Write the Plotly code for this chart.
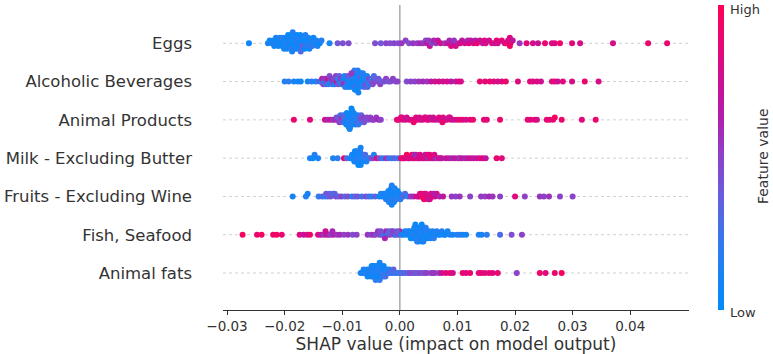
import numpy as np
import plotly.graph_objects as go

# ---------------- data ----------------
features = ["Animal fats", "Fish, Seafood", "Fruits - Excluding Wine",
            "Milk - Excluding Butter", "Animal Products", "Alcoholic Beverages", "Eggs"]

eggs_shap = [-0.0262, -0.0229, -0.0226, -0.0222, -0.0220, -0.0218, -0.0215, -0.0214, -0.0212, -0.0211,
             -0.0208, -0.0207, -0.0206, -0.0204, -0.0203, -0.0201, -0.0200, -0.0199, -0.0198, -0.0197,
             -0.0196, -0.0194, -0.0193, -0.0192, -0.0191, -0.0190, -0.0189, -0.0188, -0.0187, -0.0186,
             -0.0185, -0.0184, -0.0183, -0.0182, -0.0180, -0.0179, -0.0178, -0.0177, -0.0176, -0.0175,
             -0.0174, -0.0173, -0.0172, -0.0171, -0.0170, -0.0169, -0.0166, -0.0165, -0.0164, -0.0163,
             -0.0162, -0.0161, -0.0159, -0.0157, -0.0156, -0.0155, -0.0152, -0.0150, -0.0149, -0.0145,
             -0.0143, -0.0139, -0.0136, -0.0122, -0.0108, -0.0099, -0.0089, -0.0043, -0.0033, -0.0024,
             -0.0017, -0.0010, -0.0003, 0.0003, 0.0010, 0.0016, 0.0023, 0.0030, 0.0035, 0.0040,
             0.0045, 0.0047, 0.0050, 0.0052, 0.0055, 0.0059, 0.0063, 0.0066, 0.0071, 0.0078,
             0.0083, 0.0086, 0.0089, 0.0092, 0.0094, 0.0097, 0.0102, 0.0105, 0.0108, 0.0113,
             0.0118, 0.0120, 0.0123, 0.0128, 0.0131, 0.0134, 0.0139, 0.0144, 0.0147, 0.0149,
             0.0155, 0.0160, 0.0165, 0.0168, 0.0170, 0.0177, 0.0182, 0.0185, 0.0188, 0.0191,
             0.0191, 0.0192, 0.0196, 0.0208, 0.0220, 0.0231, 0.0240, 0.0252, 0.0264, 0.0269,
             0.0278, 0.0299, 0.0313, 0.0370, 0.0431, 0.0464]
eggs_feat = [0.05, 0.10, 0.05, 0.15, 0.10, 0.05, 0.10, 0.20, 0.05, 0.10,
             0.15, 0.05, 0.10, 0.05, 0.20, 0.10, 0.05, 0.10, 0.15, 0.05,
             0.10, 0.05, 0.15, 0.10, 0.05, 0.10, 0.20, 0.05, 0.10, 0.15,
             0.05, 0.10, 0.05, 0.15, 0.10, 0.05, 0.20, 0.10, 0.05, 0.15,
             0.10, 0.05, 0.30, 0.10, 0.05, 0.35, 0.10, 0.05, 0.15, 0.10,
             0.05, 0.20, 0.10, 0.05, 0.15, 0.10, 0.25, 0.05, 0.10, 0.15,
             0.10, 0.05, 0.15, 0.10, 0.40, 0.45, 0.45, 0.45, 0.40, 0.50,
             0.45, 0.50, 0.45, 0.55, 0.50, 0.45, 0.55, 0.50, 0.60, 0.55,
             0.50, 0.65, 0.55, 0.75, 0.50, 0.60, 0.55, 0.70, 0.80, 0.55,
             0.75, 0.60, 0.85, 0.65, 0.55, 0.80, 0.60, 0.85, 0.70, 0.75,
             0.60, 0.85, 0.70, 0.80, 0.65, 0.90, 0.75, 0.70, 0.85, 0.80,
             0.75, 0.85, 0.70, 0.90, 0.80, 0.85, 0.75, 0.90, 0.80, 0.95,
             0.85, 0.90, 0.70, 0.55, 0.85, 0.80, 0.75, 0.90, 0.80, 0.85,
             0.90, 0.85, 0.80, 0.80, 0.90, 0.90]

alco_shap = [-0.0200, -0.0193, -0.0184, -0.0177, -0.0172, -0.0160, -0.0153, -0.0146, -0.0139, -0.0137,
             -0.0135, -0.0133, -0.0131, -0.0130, -0.0128, -0.0126, -0.0125, -0.0124, -0.0122, -0.0120,
             -0.0119, -0.0117, -0.0115, -0.0114, -0.0113, -0.0111, -0.0110, -0.0108, -0.0107, -0.0105,
             -0.0104, -0.0102, -0.0101, -0.0099, -0.0098, -0.0097, -0.0096, -0.0095, -0.0093, -0.0092,
             -0.0091, -0.0090, -0.0089, -0.0087, -0.0086, -0.0085, -0.0084, -0.0083, -0.0082, -0.0081,
             -0.0080, -0.0079, -0.0078, -0.0077, -0.0076, -0.0075, -0.0074, -0.0073, -0.0072, -0.0071,
             -0.0070, -0.0069, -0.0068, -0.0066, -0.0065, -0.0064, -0.0063, -0.0062, -0.0061, -0.0059,
             -0.0058, -0.0057, -0.0056, -0.0055, -0.0053, -0.0052, -0.0050, -0.0049, -0.0047, -0.0045,
             -0.0044, -0.0041, -0.0039, -0.0037, -0.0034, -0.0031, -0.0027, -0.0024, -0.0020, -0.0016,
             -0.0012, -0.0007, -0.0004, 0.0012, 0.0019, 0.0026, 0.0033, 0.0040, 0.0047, 0.0054,
             0.0061, 0.0068, 0.0075, 0.0082, 0.0089, 0.0097, 0.0102, 0.0106, 0.0139, 0.0148,
             0.0156, 0.0163, 0.0170, 0.0177, 0.0184, 0.0205, 0.0226, 0.0231, 0.0238, 0.0245,
             0.0264, 0.0269, 0.0274, 0.0283, 0.0299, 0.0321, 0.0345,
             -0.0081, -0.0078, -0.0075, -0.0073, -0.0070, -0.0067, -0.0079, -0.0072, -0.0084, -0.0064]
alco_feat = [0.15, 0.20, 0.10, 0.10, 0.05, 0.10, 0.20, 0.10, 0.50, 0.20,
             0.60, 0.45, 0.15, 0.55, 0.30, 0.50, 0.65, 0.20, 0.45, 0.10,
             0.55, 0.25, 0.60, 0.45, 0.15, 0.50, 0.70, 0.20, 0.45, 0.35,
             0.10, 0.55, 0.15, 0.45, 0.05, 0.60, 0.10, 0.20, 0.50, 0.05,
             0.15, 0.40, 0.05, 0.10, 0.20, 0.05, 0.45, 0.10, 0.05, 0.15,
             0.05, 0.10, 0.30, 0.05, 0.15, 0.10, 0.05, 0.20, 0.10, 0.05,
             0.15, 0.05, 0.40, 0.10, 0.05, 0.20, 0.10, 0.35, 0.05, 0.15,
             0.45, 0.10, 0.30, 0.20, 0.50, 0.15, 0.40, 0.25, 0.45, 0.30,
             0.50, 0.35, 0.45, 0.40, 0.50, 0.35, 0.45, 0.50, 0.40, 0.45,
             0.50, 0.45, 0.50, 0.45, 0.50, 0.50, 0.55, 0.60, 0.55, 0.70,
             0.75, 0.80, 0.75, 0.80, 0.70, 0.65, 0.85, 0.80, 0.90, 0.85,
             0.90, 0.85, 0.80, 0.85, 0.90, 0.85, 0.90, 0.80, 0.85, 0.75,
             0.80, 0.90, 0.75, 0.85, 0.80, 0.90, 0.80,
             0.05, 0.10, 0.05, 0.15, 0.10, 0.05, 0.20, 0.10, 0.55, 0.15]

prod_shap = [-0.0184, -0.0156, -0.0130, -0.0125, -0.0120, -0.0116, -0.0113, -0.0110, -0.0108, -0.0107,
             -0.0105, -0.0103, -0.0102, -0.0101, -0.0099, -0.0098, -0.0097, -0.0096, -0.0095, -0.0094,
             -0.0093, -0.0092, -0.0091, -0.0090, -0.0089, -0.0088, -0.0087, -0.0086, -0.0085, -0.0084,
             -0.0083, -0.0082, -0.0081, -0.0080, -0.0079, -0.0078, -0.0077, -0.0076, -0.0075, -0.0074,
             -0.0073, -0.0072, -0.0071, -0.0069, -0.0068, -0.0067, -0.0066, -0.0063, -0.0062, -0.0060,
             -0.0057, -0.0055, -0.0051, -0.0048, -0.0045, -0.0041, -0.0037, -0.0033, -0.0005, -0.0002,
             0.0002, 0.0005, 0.0010, 0.0016, 0.0021, 0.0026, 0.0028, 0.0031, 0.0036, 0.0040,
             0.0043, 0.0047, 0.0050, 0.0052, 0.0056, 0.0061, 0.0066, 0.0068, 0.0071, 0.0075,
             0.0078, 0.0082, 0.0085, 0.0089, 0.0094, 0.0099, 0.0104, 0.0109, 0.0115, 0.0122,
             0.0127, 0.0146, 0.0151, 0.0174, 0.0222, 0.0227, 0.0234, 0.0238, 0.0255, 0.0260,
             0.0266, 0.0269, 0.0281, 0.0316, 0.0340, -0.0092, -0.0089, -0.0086, -0.0083, -0.0080,
             -0.0087, -0.0084, 0.0004, 0.0012, 0.0024, 0.0034, 0.0045, 0.0058, 0.0074, 0.0087]
prod_feat = [0.90, 0.85, 0.80, 0.60, 0.75, 0.50, 0.60, 0.45, 0.55, 0.40,
             0.50, 0.30, 0.45, 0.55, 0.35, 0.20, 0.45, 0.25, 0.15, 0.40,
             0.10, 0.05, 0.20, 0.10, 0.05, 0.15, 0.10, 0.05, 0.20, 0.10,
             0.05, 0.10, 0.15, 0.05, 0.10, 0.20, 0.05, 0.10, 0.15, 0.30,
             0.10, 0.25, 0.15, 0.40, 0.20, 0.35, 0.45, 0.50, 0.40, 0.45,
             0.50, 0.45, 0.50, 0.55, 0.50, 0.55, 0.60, 0.50, 0.85, 0.90,
             0.80, 0.85, 0.75, 0.80, 0.90, 0.70, 0.85, 0.80, 0.85, 0.75,
             0.80, 0.90, 0.85, 0.70, 0.75, 0.80, 0.70, 0.85, 0.80, 0.85,
             0.65, 0.75, 0.80, 0.85, 0.70, 0.80, 0.90, 0.85, 0.80, 0.85,
             0.90, 0.90, 0.85, 0.90, 0.90, 0.85, 0.90, 0.80, 0.90, 0.85,
             0.90, 0.95, 0.90, 0.85, 0.90, 0.05, 0.10, 0.15, 0.05, 0.10,
             0.10, 0.05, 0.85, 0.75, 0.90, 0.80, 0.85, 0.75, 0.90, 0.80]

milk_shap = [-0.0156, -0.0151, -0.0148, -0.0142, -0.0116, -0.0108, -0.0097, -0.0092, -0.0086, -0.0084,
             -0.0083, -0.0081, -0.0080, -0.0079, -0.0078, -0.0077, -0.0076, -0.0076, -0.0075, -0.0074,
             -0.0074, -0.0073, -0.0072, -0.0072, -0.0071, -0.0070, -0.0070, -0.0069, -0.0068, -0.0068,
             -0.0067, -0.0066, -0.0065, -0.0064, -0.0063, -0.0061, -0.0060, -0.0058, -0.0056, -0.0053,
             -0.0050, -0.0047, -0.0045, -0.0040, -0.0035, -0.0030, -0.0024, -0.0019, -0.0014, -0.0009,
             -0.0003, 0.0002, 0.0005, 0.0009, 0.0012, 0.0016, 0.0019, 0.0023, 0.0026, 0.0030,
             0.0033, 0.0036, 0.0040, 0.0043, 0.0047, 0.0050, 0.0054, 0.0057, 0.0061, 0.0064,
             0.0068, 0.0073, 0.0080, 0.0085, 0.0090, 0.0095, 0.0101, 0.0104, 0.0108, 0.0113,
             0.0118, 0.0123, 0.0128, 0.0134, 0.0139, 0.0144, 0.0149, 0.0168, 0.0177, 0.0007,
             0.0014, 0.0021, 0.0028, 0.0035, 0.0044, 0.0052, 0.0060, 0.0070, 0.0025, 0.0048]
milk_feat = [0.10, 0.05, 0.15, 0.10, 0.10, 0.20, 0.90, 0.30, 0.10, 0.05,
             0.10, 0.15, 0.05, 0.10, 0.00, 0.10, 0.05, 0.15, 0.10, 0.20,
             0.10, 0.05, 0.10, 0.00, 0.15, 0.05, 0.10, 0.20, 0.05, 0.10,
             0.15, 0.10, 0.05, 0.20, 0.10, 0.15, 0.30, 0.10, 0.20, 0.15,
             0.35, 0.50, 0.15, 0.80, 0.45, 0.20, 0.55, 0.30, 0.20, 0.35,
             0.20, 0.90, 0.85, 0.70, 0.95, 0.80, 0.60, 0.85, 0.90, 0.75,
             0.85, 0.80, 0.70, 0.90, 0.75, 0.60, 0.85, 0.80, 0.70, 0.55,
             0.85, 0.75, 0.65, 0.75, 0.60, 0.70, 0.65, 0.55, 0.75, 0.60,
             0.70, 0.80, 0.65, 0.75, 0.80, 0.85, 0.70, 0.90, 0.85, 0.90,
             0.80, 0.95, 0.75, 0.85, 0.65, 0.90, 0.80, 0.70, 0.60, 0.85]

fruit_shap = [-0.0186, -0.0163, -0.0160, -0.0141, -0.0135, -0.0130, -0.0125, -0.0122, -0.0120, -0.0116,
              -0.0111, -0.0106, -0.0101, -0.0095, -0.0090, -0.0083, -0.0078, -0.0073, -0.0066, -0.0059,
              -0.0054, -0.0049, -0.0043, -0.0036, -0.0033, -0.0031, -0.0029, -0.0027, -0.0026, -0.0024,
              -0.0023, -0.0022, -0.0021, -0.0020, -0.0019, -0.0018, -0.0018, -0.0017, -0.0016, -0.0016,
              -0.0015, -0.0014, -0.0014, -0.0013, -0.0012, -0.0012, -0.0011, -0.0010, -0.0009, -0.0008,
              -0.0007, -0.0006, -0.0004, -0.0003, -0.0001, 0.0001, 0.0003, 0.0006, 0.0009, 0.0014,
              0.0019, 0.0024, 0.0030, 0.0033, 0.0036, 0.0040, 0.0043, 0.0047, 0.0050, 0.0054,
              0.0057, 0.0061, 0.0064, 0.0069, 0.0075, 0.0090, 0.0097, 0.0104, 0.0122, 0.0141,
              0.0148, 0.0155, 0.0161, 0.0174, 0.0200, 0.0217, 0.0243, 0.0250, 0.0259, 0.0278,
              0.0300, 0.0038, 0.0045, 0.0052, 0.0042, 0.0049, 0.0035, 0.0059, -0.0128, -0.0113]
fruit_feat = [0.10, 0.15, 0.10, 0.20, 0.30, 0.15, 0.35, 0.25, 0.40, 0.30,
              0.45, 0.35, 0.50, 0.30, 0.45, 0.20, 0.35, 0.40, 0.25, 0.45,
              0.30, 0.20, 0.35, 0.10, 0.20, 0.05, 0.15, 0.10, 0.05, 0.20,
              0.10, 0.15, 0.05, 0.10, 0.10, 0.20, 0.05, 0.15, 0.10, 0.20,
              0.05, 0.10, 0.15, 0.05, 0.10, 0.20, 0.05, 0.10, 0.15, 0.05,
              0.10, 0.20, 0.05, 0.15, 0.10, 0.20, 0.10, 0.30, 0.30, 0.20,
              0.55, 0.60, 0.85, 0.70, 0.90, 0.75, 0.85, 0.90, 0.70, 0.80,
              0.95, 0.75, 0.85, 0.60, 0.70, 0.55, 0.50, 0.55, 0.50, 0.55,
              0.50, 0.60, 0.55, 0.50, 0.85, 0.50, 0.55, 0.50, 0.55, 0.50,
              0.50, 0.90, 0.80, 0.85, 0.95, 0.75, 0.85, 0.65, 0.40, 0.35]

fish_shap = [-0.0273, -0.0248, -0.0240, -0.0220, -0.0214, -0.0205, -0.0174, -0.0167, -0.0161, -0.0156,
             -0.0142, -0.0137, -0.0132, -0.0127, -0.0123, -0.0120, -0.0115, -0.0109, -0.0104, -0.0097,
             -0.0090, -0.0082, -0.0075, -0.0056, -0.0050, -0.0045, -0.0042, -0.0038, -0.0035, -0.0031,
             -0.0028, -0.0024, -0.0021, -0.0017, -0.0014, -0.0010, -0.0007, -0.0003, 0.0000, 0.0003,
             0.0006, 0.0009, 0.0011, 0.0014, 0.0016, 0.0017, 0.0019, 0.0021, 0.0022, 0.0024,
             0.0025, 0.0026, 0.0028, 0.0029, 0.0030, 0.0031, 0.0032, 0.0033, 0.0034, 0.0035,
             0.0036, 0.0037, 0.0038, 0.0039, 0.0041, 0.0042, 0.0043, 0.0044, 0.0045, 0.0047,
             0.0048, 0.0050, 0.0051, 0.0053, 0.0055, 0.0057, 0.0059, 0.0062, 0.0064, 0.0067,
             0.0070, 0.0073, 0.0076, 0.0079, 0.0083, 0.0087, 0.0092, 0.0099, 0.0104, 0.0109,
             0.0115, 0.0137, 0.0142, 0.0151, 0.0174, 0.0194, 0.0212, -0.0033, -0.0026, -0.0019,
             -0.0012, -0.0005, 0.0033, 0.0038, 0.0030, 0.0041, 0.0027, 0.0045, -0.0117, -0.0129]
fish_feat = [0.95, 0.90, 0.95, 0.90, 0.95, 0.90, 0.85, 0.70, 0.80, 0.90,
             0.85, 0.70, 0.55, 0.75, 0.60, 0.50, 0.65, 0.55, 0.60, 0.50,
             0.55, 0.45, 0.50, 0.55, 0.50, 0.60, 0.45, 0.55, 0.50, 0.40,
             0.20, 0.60, 0.15, 0.45, 0.10, 0.50, 0.20, 0.40, 0.60, 0.10,
             0.15, 0.05, 0.10, 0.20, 0.05, 0.10, 0.00, 0.15, 0.10, 0.05,
             0.10, 0.20, 0.05, 0.10, 0.15, 0.05, 0.10, 0.20, 0.05, 0.10,
             0.15, 0.05, 0.10, 0.15, 0.10, 0.05, 0.10, 0.20, 0.10, 0.15,
             0.05, 0.10, 0.15, 0.10, 0.05, 0.10, 0.20, 0.10, 0.15, 0.05,
             0.10, 0.15, 0.10, 0.05, 0.10, 0.15, 0.10, 0.15, 0.20, 0.10,
             0.10, 0.15, 0.10, 0.20, 0.30, 0.45, 0.50, 0.45, 0.60, 0.35,
             0.50, 0.40, 0.10, 0.05, 0.15, 0.10, 0.05, 0.15, 0.60, 0.75]

fats_shap = [-0.0068, -0.0065, -0.0063, -0.0061, -0.0059, -0.0057, -0.0056, -0.0054, -0.0053, -0.0052,
             -0.0051, -0.0050, -0.0049, -0.0048, -0.0047, -0.0047, -0.0046, -0.0045, -0.0044, -0.0044,
             -0.0043, -0.0042, -0.0041, -0.0041, -0.0040, -0.0039, -0.0038, -0.0038, -0.0037, -0.0036,
             -0.0035, -0.0035, -0.0034, -0.0033, -0.0032, -0.0031, -0.0030, -0.0029, -0.0028, -0.0027,
             -0.0026, -0.0025, -0.0023, -0.0022, -0.0020, -0.0018, -0.0016, -0.0013, -0.0011, -0.0008,
             -0.0005, -0.0002, 0.0003, 0.0009, 0.0014, 0.0019, 0.0024, 0.0030, 0.0035, 0.0040,
             0.0047, 0.0054, 0.0061, 0.0068, 0.0073, 0.0080, 0.0087, 0.0092, 0.0109, 0.0115,
             0.0122, 0.0137, 0.0142, 0.0148, 0.0155, 0.0161, 0.0170, 0.0203, 0.0243, 0.0253,
             0.0269, 0.0281, 0.0006, 0.0017, 0.0027, 0.0044, 0.0058]
fats_feat = [0.10, 0.15, 0.10, 0.05, 0.20, 0.10, 0.05, 0.15, 0.10, 0.05,
             0.10, 0.15, 0.05, 0.10, 0.20, 0.05, 0.10, 0.15, 0.10, 0.05,
             0.10, 0.20, 0.10, 0.15, 0.10, 0.05, 0.10, 0.15, 0.05, 0.10,
             0.20, 0.10, 0.05, 0.15, 0.10, 0.25, 0.10, 0.15, 0.05, 0.20,
             0.10, 0.30, 0.15, 0.10, 0.25, 0.15, 0.30, 0.20, 0.35, 0.25,
             0.30, 0.20, 0.35, 0.25, 0.40, 0.30, 0.45, 0.35, 0.50, 0.40,
             0.45, 0.50, 0.40, 0.55, 0.75, 0.85, 0.90, 0.80, 0.90, 0.85,
             0.90, 0.85, 0.90, 0.80, 0.90, 0.85, 0.90, 0.50, 0.90, 0.85,
             0.90, 0.95, 0.30, 0.45, 0.40, 0.50, 0.55]

x_tick_vals = [-0.03, -0.02, -0.01, 0.00, 0.01, 0.02, 0.03, 0.04]
x_tick_text = ["\u22120.03", "\u22120.02", "\u22120.01", "0.00", "0.01", "0.02", "0.03", "0.04"]
colorbar_labels = ["Low", "High"]

rows = [(fats_shap, fats_feat), (fish_shap, fish_feat), (fruit_shap, fruit_feat),
        (milk_shap, milk_feat), (prod_shap, prod_feat), (alco_shap, alco_feat),
        (eggs_shap, eggs_feat)]
for sv, fv in rows:
    assert len(sv) == len(fv), (len(sv), len(fv))

# ---------------- beeswarm offsets (shap's deterministic binning) ----------------
def swarm(vals, row_height=0.4, nbins=100):
    v = np.asarray(vals, float)
    quant = np.round(nbins * (v - v.min()) / (v.max() - v.min() + 1e-8))
    inds = np.argsort(quant, kind="stable")
    ys = np.zeros(len(v))
    layer, last_bin = 0, -1
    for ind in inds:
        if quant[ind] != last_bin:
            layer = 0
        ys[ind] = np.ceil(layer / 2) * ((layer % 2) * 2 - 1)
        layer += 1
        last_bin = quant[ind]
    ys *= 0.9 * (row_height / np.max(ys + 1))
    return ys

colorscale = [[0.0, "#008bfa"], [0.2, "#2d7cf0"], [0.38, "#6a5cdc"], [0.5, "#8c42c8"],
              [0.65, "#b51aa8"], [0.82, "#db0a85"], [1.0, "#ff0052"]]

fig = go.Figure()
for i, (sv, fv) in enumerate(rows):
    fig.add_trace(go.Scatter(
        x=sv, y=i + swarm(sv), mode="markers",
        marker=dict(size=6, color=fv, colorscale=colorscale, cmin=0, cmax=1,
                    line=dict(width=0), showscale=(i == 0),
                    colorbar=dict(thickness=6, len=1.0, lenmode="fraction", y=0.5, yanchor="middle",
                                  x=1.062, xanchor="left", xpad=0, ypad=0, outlinewidth=0,
                                  showticklabels=False, ticks="")),
        hoverinfo="skip", showlegend=False))

shapes = []
for i in range(len(features)):
    shapes.append(dict(type="line", xref="paper", x0=0, x1=1, yref="y", y0=i, y1=i,
                       line=dict(color="#d0d0d0", width=1, dash="dot"), layer="below"))
shapes.append(dict(type="line", xref="x", x0=0, x1=0, yref="paper", y0=0, y1=1,
                   line=dict(color="#aaaaaa", width=1.5), layer="below"))

cb_font = dict(family="DejaVu Sans", size=13, color="#333333")
annotations = [
    dict(text="Feature value", textangle=-90, xref="paper", yref="paper",
         x=1.159, y=0.505, xanchor="center", yanchor="middle", showarrow=False,
         font=dict(family="DejaVu Sans", size=14, color="#333333")),
    dict(text=colorbar_labels[1], xref="paper", yref="paper", x=1.084, y=0.986,
         xanchor="left", yanchor="middle", showarrow=False, font=cb_font),
    dict(text=colorbar_labels[0], xref="paper", yref="paper", x=1.084, y=-0.007,
         xanchor="left", yanchor="middle", showarrow=False, font=cb_font),
]

fig.update_layout(
    width=773, height=354,
    margin=dict(l=223, r=84, t=5, b=44, autoexpand=False),
    paper_bgcolor="white", plot_bgcolor="white",
    font=dict(family="DejaVu Sans", color="#333333"),
    shapes=shapes,
    annotations=annotations,
    xaxis=dict(range=[-0.0307, 0.0502], tickvals=x_tick_vals, ticktext=x_tick_text,
               showgrid=False, zeroline=False, showline=True, linecolor="#333333", linewidth=1,
               ticks="outside", ticklen=4, tickcolor="#333333", automargin=False,
               tickfont=dict(size=13.5, color="#333333"),
               title=dict(text="SHAP value (impact on model output)", standoff=2,
                          font=dict(size=17, color="#333333"))),
    yaxis=dict(range=[-0.966, 7.0], tickvals=list(range(len(features))), ticktext=features,
               showgrid=False, zeroline=False, showline=False, ticks="", automargin=False,
               ticklabelstandoff=30, tickfont=dict(size=16.5, color="#333333")),
)

fig.write_html("out.html", config={"displayModeBar": False},
               post_script="document.body.style.margin='0';")
